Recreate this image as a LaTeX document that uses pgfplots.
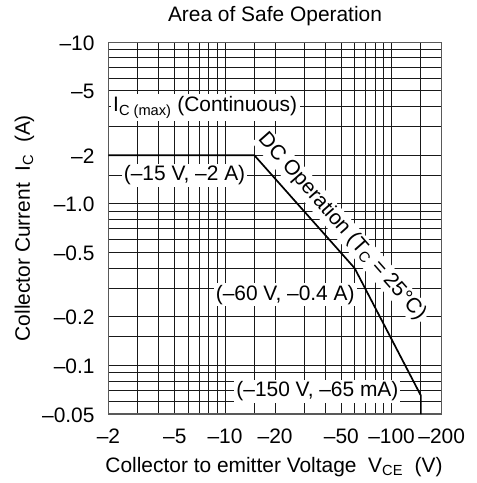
\documentclass[border=0pt]{standalone}
\usepackage{fontspec}
\setmainfont{Liberation Sans}
\usepackage{pgfplots}
\pgfplotsset{compat=1.18}
\begin{document}
\begin{tikzpicture}[font=\fontsize{21}{25}\selectfont]
\begin{axis}[
  at={(0,0)}, anchor=south west,
  scale only axis, width=333.2bp, height=371.7bp,
  xmode=log, ymode=log,
  xmin=2, xmax=200, ymin=0.05, ymax=10,
  xtick={2,5,10,20,50,100,200},
  xticklabels={–2,–5,–10,–20,–50,–100,–200},
  minor xtick={3,4,6,7,8,9,15,30,40,60,70,80,90,150},
  ytick={0.05,0.1,0.2,0.5,1,2,5,10},
  yticklabels={–0.05,–0.1,–0.2,–0.5,–1.0,–2,–5,–10},
  minor ytick={0.06,0.07,0.08,0.09,0.15,0.3,0.4,0.6,0.7,0.8,0.9,1.5,3,4,6,7,8,9},
  grid=both,
  major grid style={black!90, line width=0.9bp},
  minor grid style={black!90, line width=0.9bp},
  major tick length=0pt, minor tick length=0pt,
  axis line style={black!65, line width=1.4bp},
  tick label style={font=\fontsize{21}{25}\selectfont},
  xticklabel style={anchor=base, yshift=-29bp},
  yticklabel style={anchor=base east, xshift=-10.5bp, yshift=-8bp},
]
\addplot[black, line width=1.7bp, mark=none] coordinates {(2,2) (15,2) (60,0.4) (150,0.065) (150,0.05)};
\node[fill=white, inner sep=2.5bp, anchor=west, xshift=2bp] at (axis cs:2,3.95) {I\textsubscript{C (max)} (Continuous)};
\node[fill=white, inner sep=2bp] at (axis cs:5.72,1.5) {(–15 V, –2 A)};
\node[fill=white, inner sep=2bp] at (axis cs:23,0.274) {(–60 V, –0.4 A)};
\node[fill=white, inner sep=2bp] at (axis cs:35.9,0.069) {(–150 V, –65 mA)};
\node[fill=white, inner sep=2bp, rotate=-48.5] at (axis cs:50.4,0.72) {DC Operation (T\textsubscript{C} = 25°C)};
\end{axis}
\node[anchor=base] at (166.5bp,392bp) {Area of Safe Operation};
\node[anchor=base] at (165.5bp,-58bp) {Collector to emitter Voltage\ \ V\textsubscript{CE}\ \ (V)};
\node[anchor=base, rotate=90] at (-78.5bp,185.85bp) {Collector Current\ \ I\textsubscript{C}\ \ (A)};
\pgfresetboundingbox
\path[use as bounding box] (-108.5bp,-69bp) rectangle (368.5bp,414bp);
\end{tikzpicture}
\end{document}
